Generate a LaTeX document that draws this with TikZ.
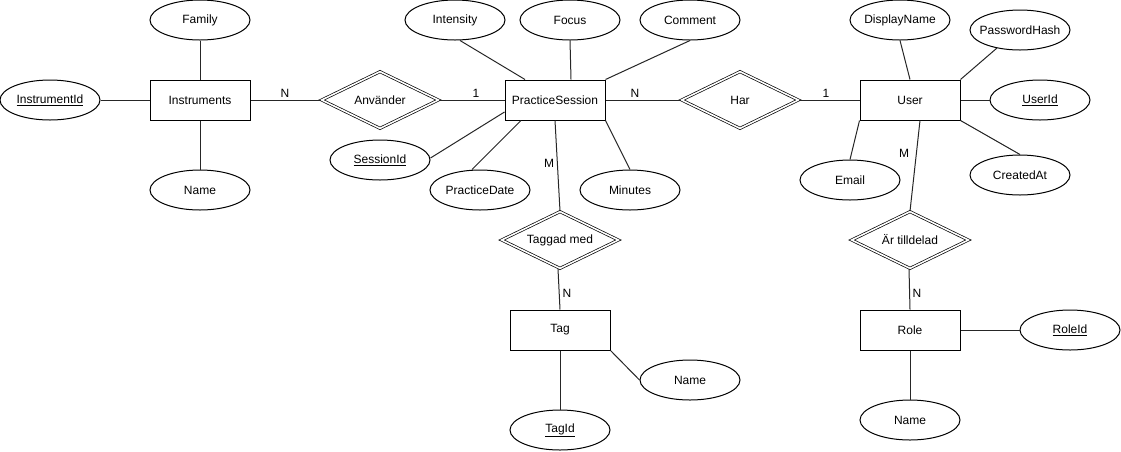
\documentclass[tikz,border=0pt]{standalone}
\usepackage{fontspec}
\setmainfont{Liberation Sans}
\usetikzlibrary{shapes.geometric}
\newcommand{\zw}[1]{\makebox[0pt]{#1}}
\tikzset{
  base/.style={font=\fontsize{12}{14}\selectfont, inner sep=0pt, line width=1pt},
  entity/.style={base, draw, rectangle, minimum width=100pt, minimum height=40pt},
  attr/.style={base, draw, ellipse, minimum width=100pt, minimum height=40pt},
  rel/.style={base, draw, diamond, aspect=2, minimum width=117pt, minimum height=57pt, double, double distance=1.6pt, line width=0.7pt},
  lbl/.style={font=\fontsize{12}{14}\selectfont, inner sep=0pt},
  conn/.style={line width=1pt, draw=black!85}
}
\begin{document}
\begin{tikzpicture}[x=1pt,y=-1pt]
\useasboundingbox (0,0) rectangle (1121,451);
% Instruments cluster
\node[entity] (instr) at (200,100) {Instruments};
\node[attr] (family) at (200,20) {\zw{Family}};
\node[attr] (instrid) at (50,100) {\zw{\underline{InstrumentId}}};
\node[attr] (iname) at (200,190) {\zw{Name}};
\node[rel] (anv) at (380,100) {Använder};
% PracticeSession cluster
\node[entity] (ps) at (555,100) {PracticeSession};
\node[attr] (intensity) at (455,20) {\zw{Intensity}};
\node[attr] (focus) at (570,20) {\zw{Focus}};
\node[attr] (comment) at (690,20) {\zw{Comment}};
\node[attr] (sessid) at (380,160) {\zw{\underline{SessionId}}};
\node[attr] (pdate) at (480,190) {\zw{PracticeDate}};
\node[attr] (minutes) at (630,190) {\zw{Minutes}};
\node[rel] (taggad) at (560,240) {Taggad med};
\node[entity] (tag) at (560,330) {Tag};
\node[attr] (tname) at (690,380) {\zw{Name}};
\node[attr] (tagid) at (560,430) {\zw{\underline{TagId}}};
% User cluster
\node[rel] (har) at (740,100) {Har};
\node[entity] (user) at (910,100) {User};
\node[attr] (dname) at (900,20) {\zw{DisplayName}};
\node[attr] (pwh) at (1020,30) {\zw{PasswordHash}};
\node[attr] (userid) at (1040,100) {\zw{\underline{UserId}}};
\node[attr] (email) at (850,180) {\zw{Email}};
\node[attr] (created) at (1020,175) {\zw{CreatedAt}};
\node[rel] (arr) at (910,240) {Är tilldelad};
\node[entity] (role) at (910,330) {Role};
\node[attr] (roleid) at (1070,330) {\zw{\underline{RoleId}}};
\node[attr] (rname) at (910,420) {\zw{Name}};
% connectors
\draw[conn] (instrid.east) -- (instr.west);
\draw[conn] (family.south) -- (instr.north);
\draw[conn] (instr.south) -- (iname.north);
\draw[conn] (instr.east) -- (anv.west);
\draw[conn] (anv.east) -- (ps.west);
\draw[conn] ([xshift=5pt]intensity.south) -- ([xshift=-30pt]ps.north);
\draw[conn] (focus.south) -- ([xshift=16pt]ps.north);
\draw[conn] (comment.south) -- (ps.north east);
\draw[conn] ([yshift=2pt]sessid.east) -- ([yshift=-12pt]ps.west);
\draw[conn] ([xshift=-8pt]pdate.north) -- ([xshift=-34pt]ps.south);
\draw[conn] (minutes.north) -- (ps.south east);
\draw[conn] (ps.south) -- (taggad.north);
\draw[conn] ([xshift=-2pt]taggad.south) -- (tag.north);
\draw[conn] (tag.south east) -- (tname.west);
\draw[conn] (tag.south) -- (tagid.north);
\draw[conn] (ps.east) -- (har.west);
\draw[conn] (har.east) -- (user.west);
\draw[conn] (dname.south) -- (user.north);
\draw[conn] ([xshift=-23pt,yshift=-18pt]pwh.center) -- (user.north east);
\draw[conn] (user.east) -- (userid.west);
\draw[conn] (email.north) -- (user.south west);
\draw[conn] (created.north) -- (user.south east);
\draw[conn] ([xshift=10pt]user.south) -- (arr.north);
\draw[conn] ([xshift=-1pt]arr.south) -- (role.north);
\draw[conn] (role.east) -- (roleid.west);
\draw[conn] (role.south) -- (rname.north);
% cardinality labels
\node[lbl] (l1) at (285,93) {N};
\node[lbl] (l2) at (476,93) {1};
\node[lbl] (l3) at (635,93) {N};
\node[lbl] (l4) at (826,93) {1};
\node[lbl] (l5) at (549,163) {M};
\node[lbl] (l6) at (567,293) {N};
\node[lbl] (l7) at (904,153) {M};
\node[lbl] (l8) at (917,293) {N};
\end{tikzpicture}
\end{document}
